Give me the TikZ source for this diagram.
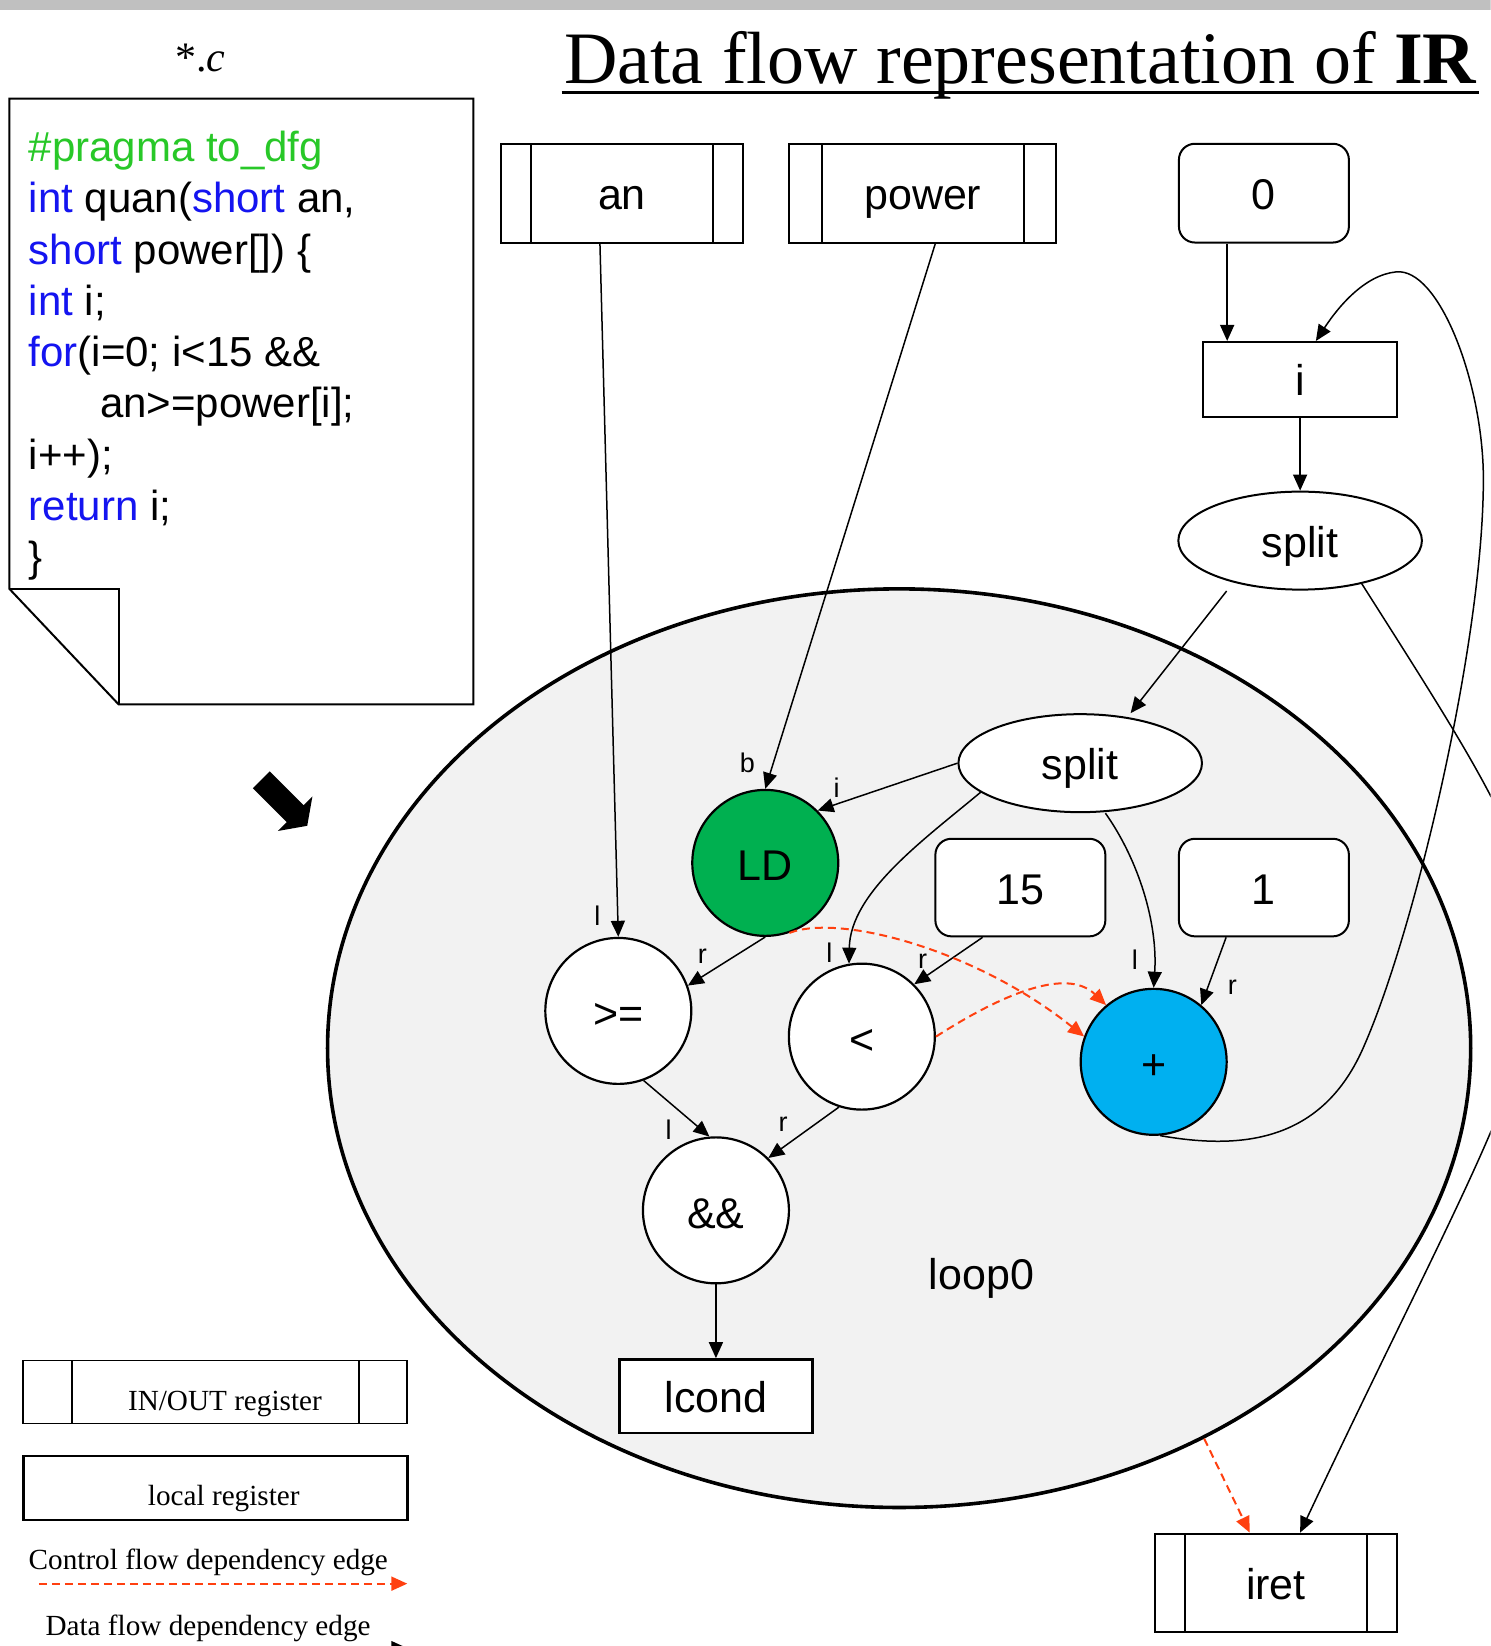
\documentclass[tikz,border=0pt]{standalone}
\usepackage{fontspec}
\setmainfont{Liberation Serif}
\setsansfont{Liberation Sans}
\usepackage{xcolor}
\usetikzlibrary{calc,shapes,arrows.meta,positioning}
\definecolor{codegreen}{RGB}{40,200,40}
\definecolor{codeblue}{RGB}{20,20,240}
\definecolor{ldgreen}{RGB}{0,176,80}
\definecolor{addblue}{RGB}{0,176,240}
\definecolor{loopgray}{RGB}{242,242,242}
\definecolor{bargray}{RGB}{192,192,192}
\definecolor{ctrlred}{RGB}{255,64,16}
\newcommand\kwd[1]{\textcolor{codeblue}{#1}}
\newcommand\prg[1]{\textcolor{codegreen}{#1}}

\begin{document}
\begin{tikzpicture}[x=0.525pt,y=-0.525pt,>={Triangle[length=8pt,width=7pt]}]
    \tikzstyle{code}=[font=\sffamily\fontsize{21}{25}\selectfont]
    \tikzstyle{txt}=[font=\sffamily\fontsize{21.5}{25}\selectfont,text height=18pt,text depth=1.5pt]
    \tikzstyle{reg}=[rectangle,draw=black,line width=1pt,fill=white,txt]
    \tikzstyle{const}=[reg,rounded corners=8pt]
    \tikzstyle{op}=[circle,draw=black,line width=1.1pt,fill=white,minimum size=73pt,inner sep=0pt,txt,text height=18pt,text depth=0pt]
    \tikzstyle{splitter}=[ellipse,draw=black,line width=1pt,fill=white,minimum width=121.8pt,minimum height=49pt,inner sep=0pt,txt]
    \tikzstyle{port}=[font=\sffamily\fontsize{13.5}{15}\selectfont,inner sep=0pt]
    \tikzstyle{dataedge}=[->,line width=0.75pt]
    \tikzstyle{ctrledge}=[->,draw=ctrlred,line width=1pt,dash pattern=on 4pt off 2.5pt]
    \tikzstyle{legtxt}=[font=\fontsize{14.6}{16}\selectfont,anchor=base west,inner sep=0pt]
    \tikzset{ioreg/.style={reg,path picture={
        \draw[line width=1pt] ([xshift=#1]path picture bounding box.north west) -- ([xshift=#1]path picture bounding box.south west);
        \draw[line width=1pt] ([xshift=-#1]path picture bounding box.north east) -- ([xshift=-#1]path picture bounding box.south east);}}}

    \useasboundingbox (0,0) rectangle (1420,1568);
    \clip (0,0) rectangle (1420,1568);
    \fill[bargray] (0,0) rectangle (1420,10);

    % loop region
    \node[ellipse,draw=black,line width=1.8pt,fill=loopgray,minimum width=571.7pt,minimum height=459.4pt,inner sep=0pt] (loop) at (856.5,998.5) {};
    \node[txt] (looplabel) at (935,1213) {loop0};

    % title and source file
    \node[anchor=base west,inner sep=0pt,font=\fontsize{37}{40}\selectfont] (title) at (537,80) {Data flow representation of \textbf{IR}};
    \draw[line width=1.6pt] ($(title.base west)+(-2,8.5)$) -- ($(title.base east)+(2,8.5)$);
    \node[anchor=base,inner sep=0pt,font=\fontsize{21}{24}\selectfont] (srcname) at (191,68) {*.\textit{c}};

    \draw[line width=1pt,fill=white] (9,94) -- (451,94) -- (451,671) -- (113,671) -- (9,561) -- cycle;
    \draw[line width=1pt] (9,561) -- (113,561) -- (113,671);
    \foreach \srcline [count=\k from 0] in {%
        {\prg{\#pragma to\_dfg}},
        {\kwd{int} quan(\kwd{short} an,},
        {\kwd{short} power[]) \{},
        {\kwd{int} i;},
        {\kwd{for}(i=0; i<15 \&\&},
        {\hspace*{35.7pt}an>=power[i];},
        {i++);},
        {\kwd{return} i;},
        {\}}}
      \node[code,anchor=base west,inner sep=0pt] (code\k) at (27,{154+48.8*\k}) {\srcline};

    \node[single arrow,fill=black,rotate=-45,minimum height=32.5pt,inner sep=5.75pt,single arrow head extend=6.25pt,single arrow tip angle=110,anchor=tip] (flowarrow) at (293,787) {};

    % registers and operators
    \node[ioreg=15.2pt,minimum width=121.3pt,minimum height=49.4pt] (an) at (592.5,184) {an};
    \node[ioreg=16.3pt,minimum width=133.4pt,minimum height=49.4pt] (power) at (879,184) {power};
    \node[const,minimum width=85pt,minimum height=49.4pt] (zero) at (1204,184) {0};
    \node[reg,line width=1.2pt,minimum width=97.1pt,minimum height=37.3pt] (i) at (1238.5,361.5) {i};
    \node[splitter] (splittop) at (1238.5,515) {split};
    \node[splitter] (splitin) at (1029,727) {split};
    \node[op,fill=ldgreen] (ld) at (729,822) {LD};
    \node[op] (ge) at (589,963) {>=};
    \node[op] (lt) at (821,987.5) {<};
    \node[const,minimum width=85pt,minimum height=48.8pt] (fifteen) at (972,845.5) {15};
    \node[const,minimum width=85pt,minimum height=48.8pt] (one) at (1204,845.5) {1};
    \node[op,fill=addblue] (plus) at (1099,1011.5) {+};
    \node[op] (andand) at (682,1153) {\&\&};
    \node[reg,line width=1.2pt,minimum width=96.6pt,minimum height=36.8pt] (lcond) at (682,1330) {lcond};
    \node[ioreg=15.2pt,minimum width=121.3pt,minimum height=49.4pt] (iret) at (1215.5,1508) {iret};

    % operand ports
    \node[port] (gel) at (569,872) {l};
    \node[port] (ger) at (669,911) {r};
    \node[port] (ldb) at (712,727) {b};
    \node[port] (ldi) at (797,750) {i};
    \node[port] (ltl) at (790,908) {l};
    \node[port] (ltr) at (879,916) {r};
    \node[port] (plusl) at (1081,914) {l};
    \node[port] (plusr) at (1174,940) {r};
    \node[port] (andl) at (637,1076) {l};
    \node[port] (andr) at (746,1071) {r};

    % data flow
    \coordinate (zeroout) at ($(zero.south)+(-35,0)$);
    \draw[dataedge] ($(an.south)+(-21,0)$) -- (ge.north);
    \draw[dataedge] ($(power.south)+(12,0)$) -- (ld.north);
    \draw[dataedge] (zeroout) -- (zeroout |- i.north);
    \draw[dataedge] (i.south) -- (splittop.north);
    \draw[dataedge] ($(splittop)+(-70,48)$) -- ($(splitin.north)+(48,0)$);
    \draw[dataedge] (splitin.west) -- (ld.45);
    \draw[dataedge] ($(splitin)+(-94,27)$) .. controls (880,800) and (810,850) .. (lt.100);
    \draw[dataedge] ($(splitin.south)+(24,0)$) .. controls (1085,820) and (1103,880) .. (plus.north);
    \draw[dataedge] (ld.south) -- (ge.20);
    \draw[dataedge] ($(fifteen.south)+(-36,0)$) -- (lt.45);
    \draw[dataedge] ($(one.south)+(-36,0)$) -- (plus.50);
    \draw[dataedge] (ge.-70) -- (andand.95);
    \draw[dataedge] (lt.-108) -- (andand.45);
    \draw[dataedge] (andand.south) -- (lcond.north);
    \draw[dataedge] (plus.-85) .. controls (1180,1095) and (1260,1090) .. (1300,995)
        .. controls (1350,880) and (1415,600) .. (1413,450)
        .. controls (1411,360) and (1370,255) .. (1330,259)
        .. controls (1300,262) and (1275,292) .. ($(i.north)+(15,0)$);
    \draw[dataedge] (splittop.-35) .. controls (1543,943) and (1512,880) .. ($(iret.north)+(23,0)$);

    % control flow
    \draw[ctrledge] (ld.-71) .. controls (800,870) and (930,905) .. (plus.160);
    \draw[ctrledge] (lt.east) .. controls (950,950) and (1015,920) .. (plus.130);
    \draw[ctrledge] (loop.-52) -- ($(iret.north)+(-25,0)$);

    % legend
    \node[ioreg=24.2pt,line width=0.9pt,minimum width=192pt,minimum height=31.5pt] (legio) at (205,1326) {};
    \node[reg,line width=1.4pt,minimum width=192pt,minimum height=32pt] (legloc) at (205,1417.5) {};
    \node[legtxt] (legiotxt) at (121.6,1343.8) {IN/OUT register};
    \node[legtxt] (legloctxt) at (140.6,1434) {local register};
    \node[legtxt] (legctrltxt) at (27,1495) {Control flow dependency edge};
    \node[legtxt] (legdatatxt) at (43,1558) {Data flow dependency edge};
    \coordinate (cleg0) at (37,1508.6);
    \coordinate (cleg1) at (388,1508.6);
    \draw[ctrledge] (cleg0) -- (cleg1);
    \coordinate (dleg0) at (43,1570);
    \coordinate (dleg1) at (388,1570);
    \draw[dataedge] (dleg0) -- (dleg1);
\end{tikzpicture}
\end{document}
